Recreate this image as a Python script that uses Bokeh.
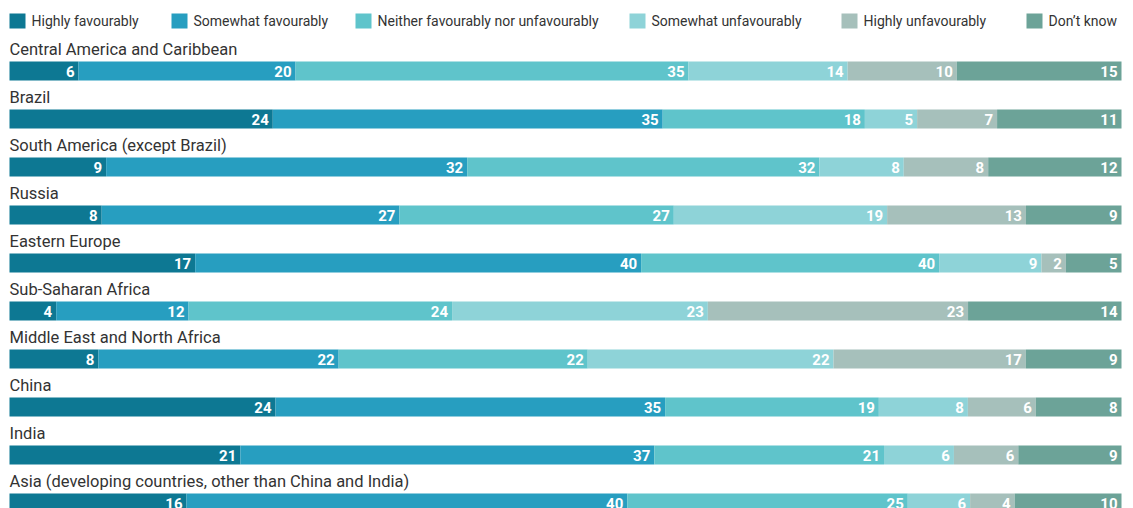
from bokeh.plotting import figure
from bokeh.models import ColumnDataSource, Range1d
from bokeh.embed import file_html
from bokeh.resources import INLINE
from bokeh.core.properties import value

# ---------------- data ----------------
regions = [
    "Central America and Caribbean",
    "Brazil",
    "South America (except Brazil)",
    "Russia",
    "Eastern Europe",
    "Sub-Saharan Africa",
    "Middle East and North Africa",
    "China",
    "India",
    "Asia (developing countries, other than China and India)",
]

series_names = [
    "Highly favourably",
    "Somewhat favourably",
    "Neither favourably nor unfavourably",
    "Somewhat unfavourably",
    "Highly unfavourably",
    "Don\u2019t know",
]

# numbers printed on the bars
highly_fav_labels = [6, 24, 9, 8, 17, 4, 8, 24, 21, 16]
somewhat_fav_labels = [20, 35, 32, 27, 40, 12, 22, 35, 37, 40]
neither_labels = [35, 18, 32, 27, 40, 24, 22, 19, 21, 25]
somewhat_unfav_labels = [14, 5, 8, 19, 9, 23, 22, 8, 6, 6]
highly_unfav_labels = [10, 7, 8, 13, 2, 23, 17, 6, 6, 4]
dont_know_labels = [15, 11, 12, 9, 5, 14, 9, 8, 9, 10]

# segment lengths as drawn (% of each bar)
highly_fav_share = [6.2, 23.7, 8.7, 8.3, 16.7, 4.2, 8.0, 23.9, 20.8, 15.9]
somewhat_fav_share = [19.5, 35.1, 32.5, 26.8, 40.1, 11.9, 21.6, 35.0, 37.3, 39.6]
neither_share = [35.3, 18.2, 31.7, 24.7, 26.8, 23.7, 22.4, 19.2, 20.7, 25.2]
somewhat_unfav_share = [14.3, 4.7, 7.6, 19.2, 9.2, 23.0, 22.1, 8.0, 6.3, 5.6]
highly_unfav_share = [9.8, 7.2, 7.6, 12.5, 2.2, 23.4, 17.3, 6.1, 5.8, 4.0]
dont_know_share = [14.8, 11.2, 12.0, 8.6, 5.0, 13.8, 8.6, 7.7, 9.3, 9.6]

colors = ["#0d7893", "#279ec0", "#5fc4cb", "#8ed3d8", "#a6c0bb", "#6ca398"]

shares = [highly_fav_share, somewhat_fav_share, neither_share,
          somewhat_unfav_share, highly_unfav_share, dont_know_share]
labels = [highly_fav_labels, somewhat_fav_labels, neither_labels,
          somewhat_unfav_labels, highly_unfav_labels, dont_know_labels]

# ---------------- layout ----------------
W, H = 1133, 508
PX_PER_UNIT = 11.12          # pixels per percentage point
X0_PX = 9                    # left edge of bars
ROW_PX = 48                  # row pitch
FIRST_BAR_CENTER_PX = 70.5
BAR_PX = 19

x_start = -X0_PX / PX_PER_UNIT
x_end = x_start + W / PX_PER_UNIT
y_top = -FIRST_BAR_CENTER_PX / ROW_PX
y_bottom = y_top + H / ROW_PX


def px_x(px):
    return x_start + px / PX_PER_UNIT


def px_y(px):
    return y_top + px / ROW_PX


p = figure(width=W, height=H, output_backend="svg", toolbar_location=None,
           x_range=Range1d(x_start, x_end), y_range=Range1d(y_bottom, y_top),
           x_axis_location=None, y_axis_location=None, min_border=0,
           outline_line_color=None, background_fill_color="white",
           border_fill_color="white")
p.grid.visible = False

n = len(regions)
rows = list(range(n))
totals = [sum(s[i] for s in shares) for i in rows]
cum = [0.0] * n

for k, name in enumerate(series_names):
    left = [cum[i] for i in rows]
    right = [cum[i] + shares[k][i] * 100.0 / totals[i] for i in rows]
    cum = right
    src = ColumnDataSource(dict(
        y=rows, left=left, right=right,
        tx=[r - 4 / PX_PER_UNIT for r in right],
        txt=[str(v) for v in labels[k]],
    ))
    p.hbar(y="y", left="left", right="right", height=BAR_PX / ROW_PX,
           source=src, fill_color=colors[k], line_color=None)
    p.text(x="tx", y="y", text="txt", source=src, text_color="white",
           text_font=value("Roboto"), text_font_style="bold",
           text_font_size="15px", text_align="right", text_baseline="middle")

# region names above bars
lab_src = ColumnDataSource(dict(
    x=[0.0] * n,
    y=[i - 21.5 / ROW_PX for i in rows],
    t=regions,
))
p.text(x="x", y="y", text="t", source=lab_src, text_color="#333333",
       text_font=value("Roboto"), text_font_size="16.5px",
       text_align="left", text_baseline="alphabetic")

# legend
legend_px = [9, 171, 355, 629, 841, 1026]
leg_y = px_y(20.5)
leg_src = ColumnDataSource(dict(
    x=[px_x(v + 8) for v in legend_px],
    tx=[px_x(v + 22) for v in legend_px],
    y=[leg_y] * len(series_names),
    c=colors,
    t=series_names,
))
p.rect(x="x", y="y", width=16, height=15, width_units="screen",
       height_units="screen", fill_color="c", line_color=None, source=leg_src)
p.text(x="tx", y="y", text="t", source=leg_src, text_color="#333333",
       text_font=value("Roboto"), text_font_size="14px",
       text_align="left", text_baseline="middle")

open("out.html", "w").write(file_html(p, INLINE))
